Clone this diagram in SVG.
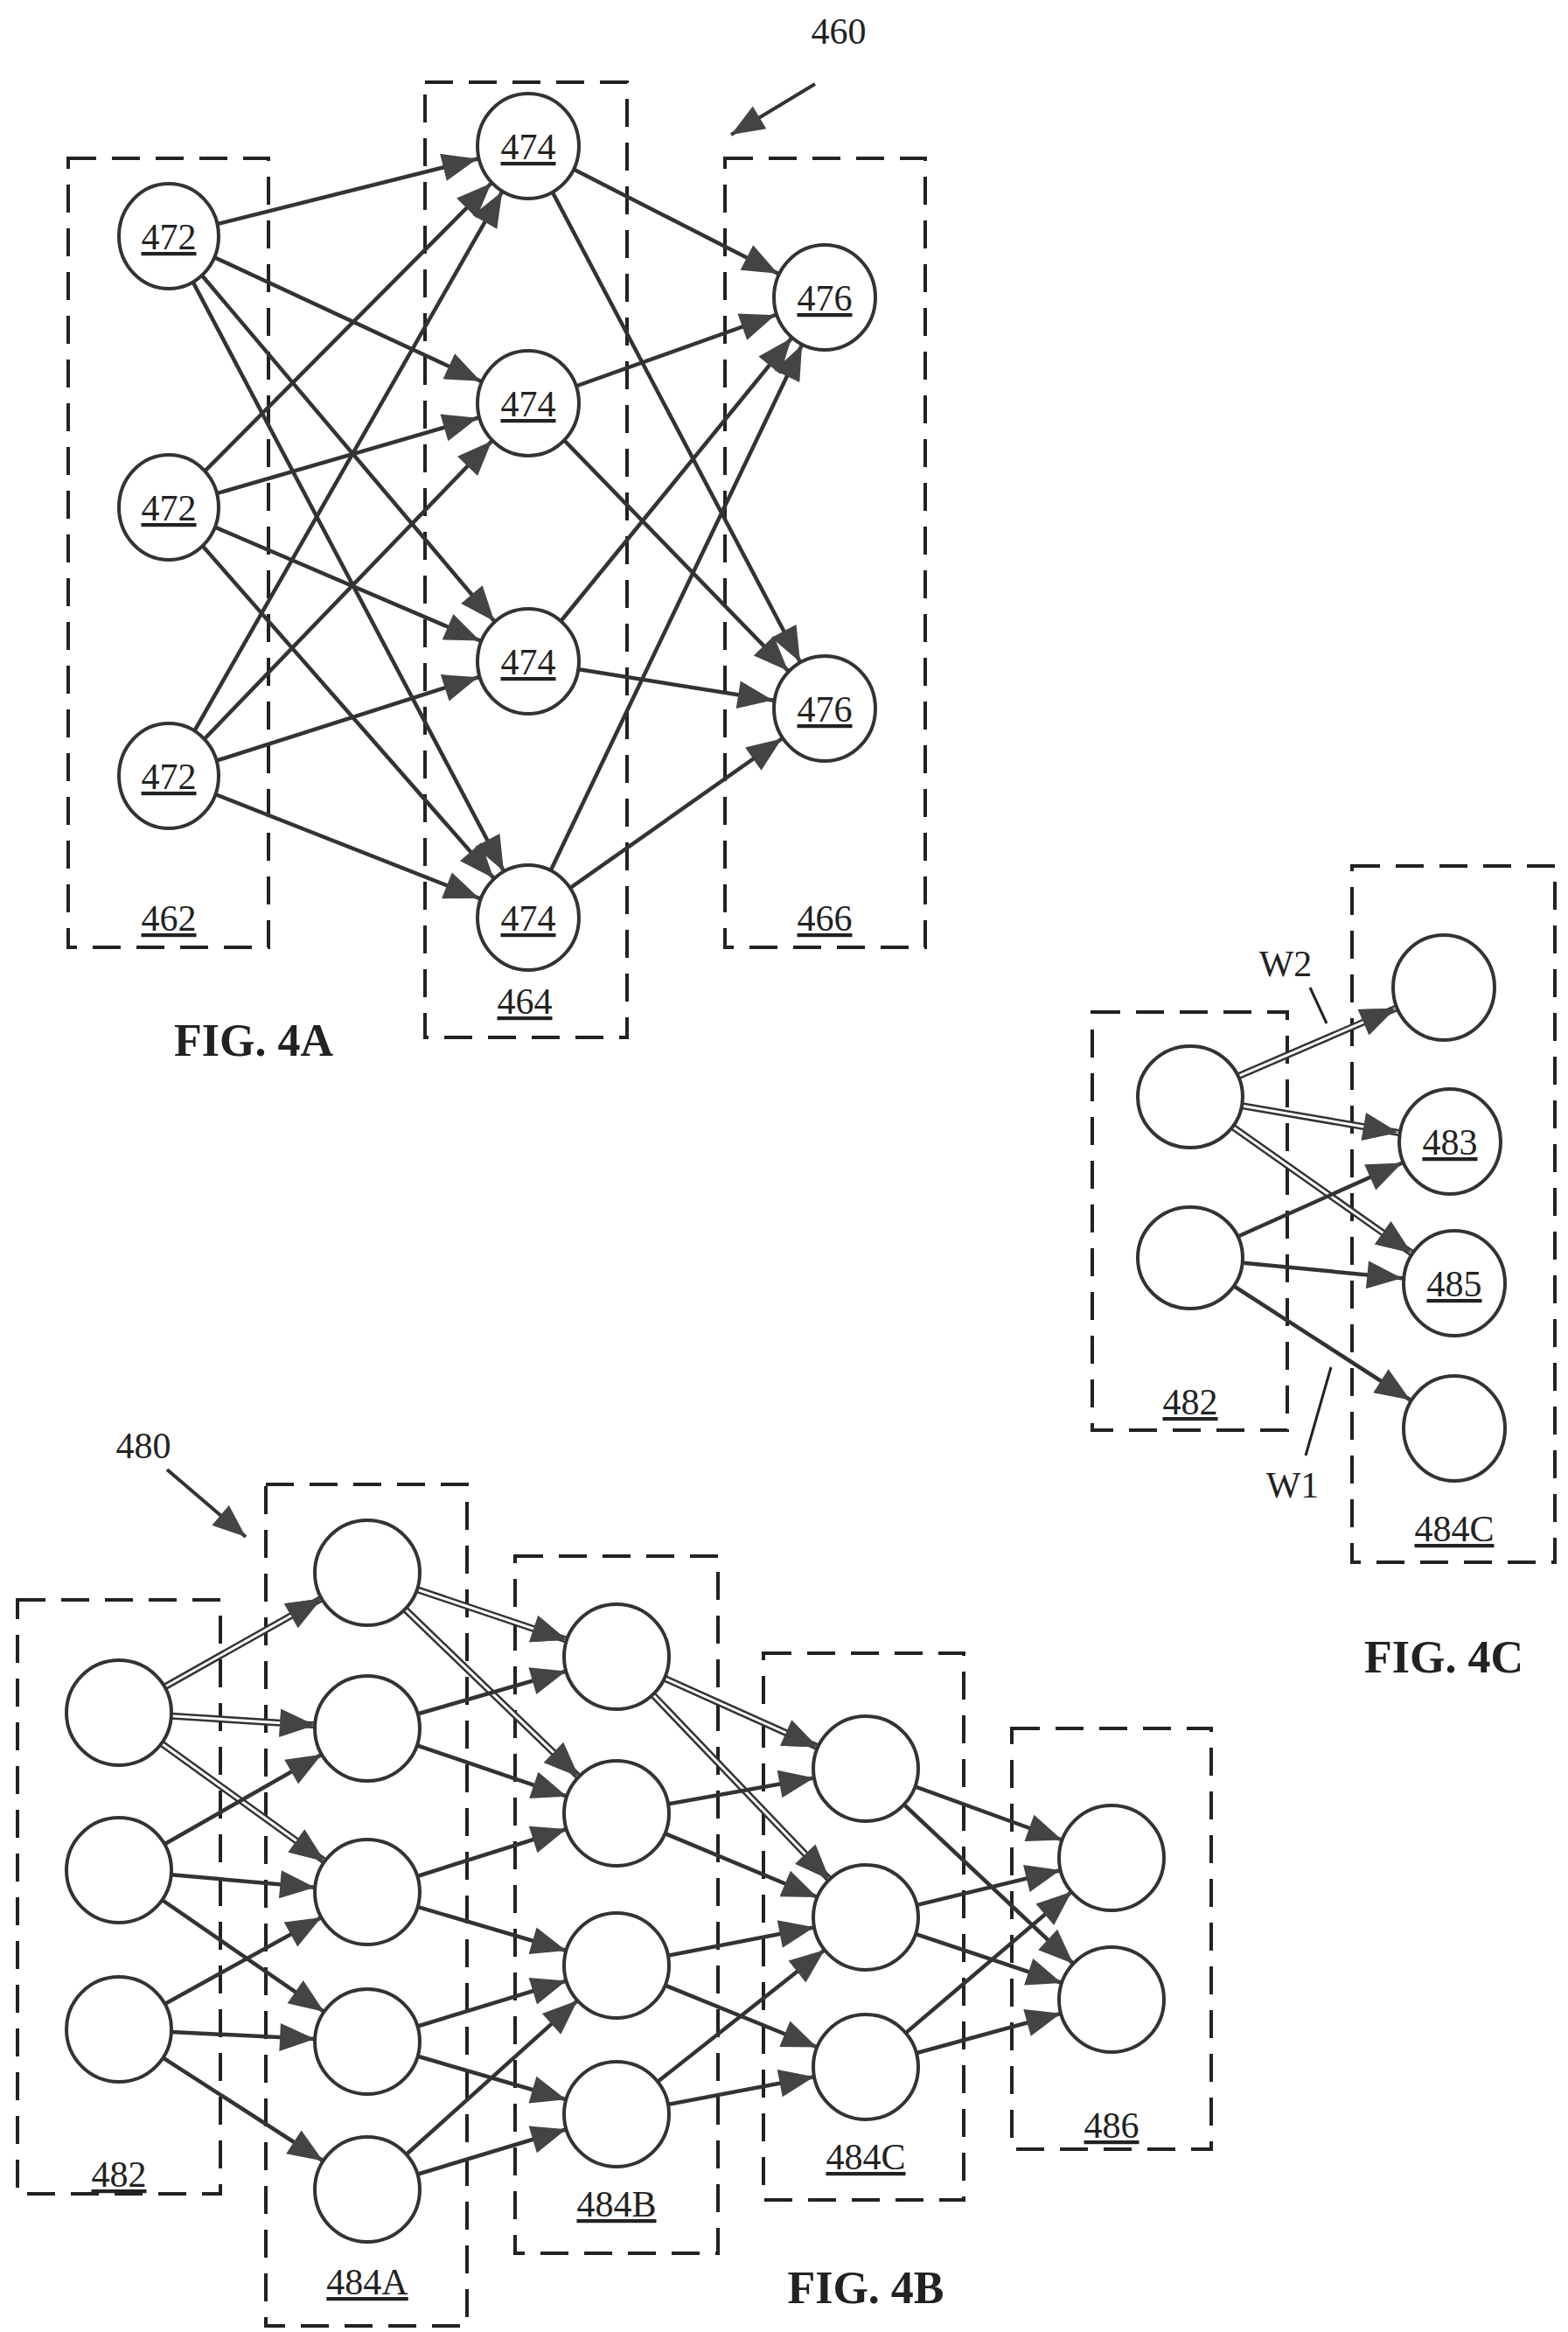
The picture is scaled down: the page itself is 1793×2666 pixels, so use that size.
<svg xmlns="http://www.w3.org/2000/svg" width="1793" height="2666" viewBox="0 0 1793 2666">
<style>
.box{fill:none;stroke:#222;stroke-width:4;stroke-dasharray:32,18}
.n{fill:#fff;stroke:#333;stroke-width:4}
.e{stroke:#333;stroke-width:4.5;marker-end:url(#ah)}
.d{stroke:#333;stroke-width:8;marker-end:url(#ah)}
.dw{stroke:#fff;stroke-width:3;marker-end:url(#ah)}
.t{font-family:"Liberation Serif",serif;font-size:42px;text-anchor:middle;fill:#222}
.u{text-decoration:underline}
.f{font-family:"Liberation Serif",serif;font-size:52px;font-weight:bold;text-anchor:middle;fill:#222}
.l{stroke:#222;stroke-width:3;fill:none}
</style>
<defs>
<marker id="ah" markerUnits="userSpaceOnUse" markerWidth="200" markerHeight="200" orient="auto" overflow="visible">
<path d="M-100,-16 L-60,0 L-100,16 z" fill="#444"/>
</marker>
<marker id="ap" markerUnits="userSpaceOnUse" markerWidth="200" markerHeight="200" orient="auto" overflow="visible">
<path d="M-38,-15 L0,0 L-38,15 z" fill="#444"/>
</marker>
</defs>
<g id="boxes">
<rect class="box" x="78" y="181" width="229" height="902"/>
<rect class="box" x="486" y="94" width="231" height="1092"/>
<rect class="box" x="829" y="181" width="229" height="902"/>
<rect class="box" x="1249" y="1157" width="223" height="478"/>
<rect class="box" x="1546" y="990" width="232" height="796"/>
<rect class="box" x="20" y="1829" width="232" height="679"/>
<rect class="box" x="304" y="1697" width="230" height="962"/>
<rect class="box" x="589" y="1779" width="232" height="797"/>
<rect class="box" x="873" y="1890" width="229" height="625"/>
<rect class="box" x="1157" y="1976" width="228" height="481"/>
</g>
<g id="connectors">
<line class="e" x1="193" y1="270" x2="604" y2="167"/>
<line class="e" x1="193" y1="270" x2="604" y2="461"/>
<line class="e" x1="193" y1="270" x2="604" y2="756"/>
<line class="e" x1="193" y1="270" x2="604" y2="1049"/>
<line class="e" x1="193" y1="580" x2="604" y2="167"/>
<line class="e" x1="193" y1="580" x2="604" y2="461"/>
<line class="e" x1="193" y1="580" x2="604" y2="756"/>
<line class="e" x1="193" y1="580" x2="604" y2="1049"/>
<line class="e" x1="193" y1="887" x2="604" y2="167"/>
<line class="e" x1="193" y1="887" x2="604" y2="461"/>
<line class="e" x1="193" y1="887" x2="604" y2="756"/>
<line class="e" x1="193" y1="887" x2="604" y2="1049"/>
<line class="e" x1="604" y1="167" x2="943" y2="340"/>
<line class="e" x1="604" y1="167" x2="943" y2="810"/>
<line class="e" x1="604" y1="461" x2="943" y2="340"/>
<line class="e" x1="604" y1="461" x2="943" y2="810"/>
<line class="e" x1="604" y1="756" x2="943" y2="340"/>
<line class="e" x1="604" y1="756" x2="943" y2="810"/>
<line class="e" x1="604" y1="1049" x2="943" y2="340"/>
<line class="e" x1="604" y1="1049" x2="943" y2="810"/>
<line stroke="#333" stroke-width="4" marker-end="url(#ap)" x1="932" y1="96" x2="836" y2="154"/>
<line class="d" x1="1361" y1="1254" x2="1651" y2="1129"/>
<line class="dw" x1="1361" y1="1254" x2="1651" y2="1129"/>
<line class="d" x1="1361" y1="1254" x2="1658" y2="1305"/>
<line class="dw" x1="1361" y1="1254" x2="1658" y2="1305"/>
<line class="d" x1="1361" y1="1254" x2="1663" y2="1467"/>
<line class="dw" x1="1361" y1="1254" x2="1663" y2="1467"/>
<line class="e" x1="1361" y1="1438" x2="1658" y2="1305"/>
<line class="e" x1="1361" y1="1438" x2="1663" y2="1467"/>
<line class="e" x1="1361" y1="1438" x2="1663" y2="1633"/>
<line class="l" x1="1498" y1="1129" x2="1517" y2="1170"/>
<line class="l" x1="1522" y1="1563" x2="1493" y2="1664"/>
<line class="d" x1="136" y1="1958" x2="420" y2="1798"/><line class="dw" x1="136" y1="1958" x2="420" y2="1798"/>
<line class="d" x1="136" y1="1958" x2="420" y2="1976"/><line class="dw" x1="136" y1="1958" x2="420" y2="1976"/>
<line class="d" x1="136" y1="1958" x2="420" y2="2163"/><line class="dw" x1="136" y1="1958" x2="420" y2="2163"/>
<line class="e" x1="136" y1="2138" x2="420" y2="1976"/>
<line class="e" x1="136" y1="2138" x2="420" y2="2163"/>
<line class="e" x1="136" y1="2138" x2="420" y2="2334"/>
<line class="e" x1="136" y1="2320" x2="420" y2="2163"/>
<line class="e" x1="136" y1="2320" x2="420" y2="2334"/>
<line class="e" x1="136" y1="2320" x2="420" y2="2503"/>
<line class="d" x1="420" y1="1798" x2="705" y2="1894"/><line class="dw" x1="420" y1="1798" x2="705" y2="1894"/>
<line class="d" x1="420" y1="1798" x2="705" y2="2073"/><line class="dw" x1="420" y1="1798" x2="705" y2="2073"/>
<line class="e" x1="420" y1="1976" x2="705" y2="1894"/>
<line class="e" x1="420" y1="1976" x2="705" y2="2073"/>
<line class="e" x1="420" y1="2163" x2="705" y2="2073"/>
<line class="e" x1="420" y1="2163" x2="705" y2="2247"/>
<line class="e" x1="420" y1="2334" x2="705" y2="2247"/>
<line class="e" x1="420" y1="2334" x2="705" y2="2417"/>
<line class="e" x1="420" y1="2503" x2="705" y2="2247"/>
<line class="e" x1="420" y1="2503" x2="705" y2="2417"/>
<line class="d" x1="705" y1="1894" x2="990" y2="2022"/><line class="dw" x1="705" y1="1894" x2="990" y2="2022"/>
<line class="d" x1="705" y1="1894" x2="990" y2="2192"/><line class="dw" x1="705" y1="1894" x2="990" y2="2192"/>
<line class="e" x1="705" y1="2073" x2="990" y2="2022"/>
<line class="e" x1="705" y1="2073" x2="990" y2="2192"/>
<line class="e" x1="705" y1="2247" x2="990" y2="2192"/>
<line class="e" x1="705" y1="2247" x2="990" y2="2363"/>
<line class="e" x1="705" y1="2417" x2="990" y2="2192"/>
<line class="e" x1="705" y1="2417" x2="990" y2="2363"/>
<line class="e" x1="990" y1="2022" x2="1271" y2="2124"/>
<line class="e" x1="990" y1="2022" x2="1271" y2="2286"/>
<line class="e" x1="990" y1="2192" x2="1271" y2="2124"/>
<line class="e" x1="990" y1="2192" x2="1271" y2="2286"/>
<line class="e" x1="990" y1="2363" x2="1271" y2="2124"/>
<line class="e" x1="990" y1="2363" x2="1271" y2="2286"/>
<line stroke="#333" stroke-width="4" marker-end="url(#ap)" x1="191" y1="1680" x2="281" y2="1757"/>
</g>
<g id="n472a"><ellipse class="n" cx="193" cy="270" rx="57" ry="60"/><text class="t u" x="193" y="285">472</text></g>
<g id="n472b"><ellipse class="n" cx="193" cy="580" rx="57" ry="60"/><text class="t u" x="193" y="595">472</text></g>
<g id="n472c"><ellipse class="n" cx="193" cy="887" rx="57" ry="60"/><text class="t u" x="193" y="902">472</text></g>
<g id="n474a"><ellipse class="n" cx="604" cy="167" rx="58" ry="60"/><text class="t u" x="604" y="182">474</text></g>
<g id="n474b"><ellipse class="n" cx="604" cy="461" rx="58" ry="60"/><text class="t u" x="604" y="476">474</text></g>
<g id="n474c"><ellipse class="n" cx="604" cy="756" rx="58" ry="60"/><text class="t u" x="604" y="771">474</text></g>
<g id="n474d"><ellipse class="n" cx="604" cy="1049" rx="58" ry="60"/><text class="t u" x="604" y="1064">474</text></g>
<g id="n476a"><ellipse class="n" cx="943" cy="340" rx="58" ry="60"/><text class="t u" x="943" y="355">476</text></g>
<g id="n476b"><ellipse class="n" cx="943" cy="810" rx="58" ry="60"/><text class="t u" x="943" y="825">476</text></g>
<g id="c4L0"><ellipse class="n" cx="1361" cy="1254" rx="60" ry="58"/></g>
<g id="c4L1"><ellipse class="n" cx="1361" cy="1438" rx="60" ry="58"/></g>
<g id="c4R0"><ellipse class="n" cx="1651" cy="1129" rx="58" ry="60"/></g>
<g id="c4R1"><ellipse class="n" cx="1658" cy="1305" rx="58" ry="60"/><text class="t u" x="1658" y="1320">483</text></g>
<g id="c4R2"><ellipse class="n" cx="1663" cy="1467" rx="58" ry="60"/><text class="t u" x="1663" y="1482">485</text></g>
<g id="c4R3"><ellipse class="n" cx="1663" cy="1633" rx="58" ry="60"/></g>
<g id="b4nodes">
<circle class="n" cx="136" cy="1958" r="60"/><circle class="n" cx="136" cy="2138" r="60"/><circle class="n" cx="136" cy="2320" r="60"/>
<circle class="n" cx="420" cy="1798" r="60"/><circle class="n" cx="420" cy="1976" r="60"/><circle class="n" cx="420" cy="2163" r="60"/><circle class="n" cx="420" cy="2334" r="60"/><circle class="n" cx="420" cy="2503" r="60"/>
<circle class="n" cx="705" cy="1894" r="60"/><circle class="n" cx="705" cy="2073" r="60"/><circle class="n" cx="705" cy="2247" r="60"/><circle class="n" cx="705" cy="2417" r="60"/>
<circle class="n" cx="990" cy="2022" r="60"/><circle class="n" cx="990" cy="2192" r="60"/><circle class="n" cx="990" cy="2363" r="60"/>
<circle class="n" cx="1271" cy="2124" r="60"/><circle class="n" cx="1271" cy="2286" r="60"/>
</g>
<g id="labels">
<text class="t u" x="193" y="1064">462</text>
<text class="t u" x="600" y="1159">464</text>
<text class="t u" x="943" y="1064">466</text>
<text class="t" x="959" y="50">460</text>
<text class="f" x="290" y="1207">FIG. 4A</text>
<text class="t" x="1470" y="1116">W2</text>
<text class="t" x="1478" y="1712">W1</text>
<text class="t u" x="1361" y="1617">482</text>
<text class="t u" x="1663" y="1762">484C</text>
<text class="f" x="1651" y="1912">FIG. 4C</text>
<text class="t" x="164" y="1667">480</text>
<text class="t u" x="136" y="2500">482</text>
<text class="t u" x="420" y="2623">484A</text>
<text class="t u" x="705" y="2534">484B</text>
<text class="t u" x="990" y="2480">484C</text>
<text class="t u" x="1271" y="2444">486</text>
<text class="f" x="990" y="2633">FIG. 4B</text>
</g>
</svg>
